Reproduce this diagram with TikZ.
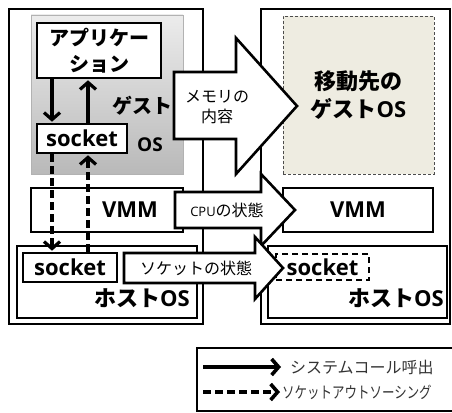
\documentclass[tikz,border=0pt]{standalone}
\usepackage{fontspec}
\setmainfont{Open Sans}
\newfontfamily\jp{Noto Sans CJK JP}
\usetikzlibrary{positioning, arrows.meta}
\definecolor{destfill}{HTML}{EEECE1}
\tikzset{
>={Straight Barb[length=7pt, width=16pt]},
frame/.style={draw, line width=2.8pt}, % the two physical machines
box/.style={draw, line width=2.6pt, fill=white, inner sep=0pt},
guest/.style={draw=gray!60, top color=gray!15, bottom color=gray!55},
dest/.style={draw=black!70, dash pattern=on 3pt off 2pt, fill=destfill},
call/.style={->, line width=3.2pt, shorten >=1pt},
outsource/.style={call, dash pattern=on 8pt off 4pt},
bigarrow/.style={draw, line width=2.6pt, fill=white, line join=miter},
big/.style={font=\bfseries\fontsize{22}{26}\selectfont},
jpbig/.style={font=\jp\bfseries\fontsize{20}{26}\selectfont, align=center},
label/.style={font=\jp\fontsize{16}{20}\selectfont, align=center},
}

\begin{document}
\begin{tikzpicture}[x=1pt, y=-1pt]
\useasboundingbox (0,0) rectangle (452,412);
% machines
\node[frame, minimum width=194, minimum height=315] at (106,166.5) (srcpc) {};
\node[frame, minimum width=189, minimum height=315] at (355.5,166.5) (dstpc) {};

% source machine
\node[guest, minimum width=152, minimum height=159] at (107,94.5) (guestos) {};
\node[box, jpbig, minimum width=124, minimum height=55] at (99,50.5) (app) {アプリケー\\ション};
\node[box, big, minimum width=90, minimum height=29] at (82,138.5) (gsock) {socket};
\node[jpbig] at (142,106) (gtext) {ゲスト};
\node[big, font=\bfseries\fontsize{19}{19}\selectfont] at (150,145) (gos) {OS};
\node[box, minimum width=152, minimum height=44] at (107,210) (vmm) {};
\node[big] at (130,210) (vmmtext) {VMM};
\node[box, minimum width=180, minimum height=72] at (107,282) (host) {};
\node[box, big, minimum width=94, minimum height=29] at (70,267.5) (hsock) {socket};
\node[big] at (142,298) (htext) {{\jp ホスト}OS};

\coordinate (xdown) at (52,0);
\coordinate (xup) at (88,0);
\draw[call] (app.south -| xdown) -- (gsock.north -| xdown);
\draw[call] (gsock.north -| xup) -- (app.south -| xup);
\draw[outsource] (gsock.south -| xdown) -- (hsock.north -| xdown);
\draw[outsource] (hsock.north -| xup) -- (gsock.south -| xup);

% destination machine
\node[dest, jpbig, font=\jp\bfseries\fontsize{22}{28}\selectfont, minimum width=151, minimum height=158] at (358.5,95) (dguest) {移動先の\\ゲスト{\rmfamily OS}};
\node[box, big, minimum width=150, minimum height=44] at (358,210) (dvmm) {VMM};
\node[box, minimum width=179, minimum height=72] at (357.5,282) (dhost) {};
\node[box, big, dash pattern=on 6pt off 4pt, minimum width=93, minimum height=26] at (322.5,267) (dsock) {socket};
\node[big] at (396,298) (dhtext) {{\jp ホスト}OS};

% what gets moved
\draw[bigarrow] (174,72) -- (236,72) -- (236,38) -- (297,106) -- (236,174) -- (236,139) -- (174,139) -- cycle;
\node[label] at (217,107) (memtext) {メモリの\\内容};
\draw[bigarrow] (175,192) -- (261,192) -- (261,174) -- (295,210) -- (261,246) -- (261,228) -- (175,228) -- cycle;
\node[label] at (227,210) (cputext) {{\rmfamily\fontsize{13}{13}\selectfont CPU}の状態};
\draw[bigarrow] (124,253) -- (255,253) -- (255,237) -- (283,268) -- (255,299) -- (255,283) -- (124,283) -- cycle;
\node[label] at (196,268) (socktext) {ソケットの状態};

% legend
\begin{scope}
\clip (0,0) rectangle (452,412);
\node[draw, line width=2pt, minimum width=270, minimum height=63, anchor=north west] at (196,347) (legend) {};
\end{scope}
\coordinate (leg1) at (203,367);
\coordinate (leg2) at (203,392);
\node[label, text=black!80, anchor=west, inner sep=2pt] at (288,367) (syscall) {システムコール呼出};
\node[label, text=black!80, anchor=west, inner sep=1pt] at (281,392) (outsrc) {\scalebox{0.78}[1]{ソケットアウトソーシング}};
\draw[call, line width=3.6pt, shorten >=7pt] (leg1) -- (syscall.west);
\draw[outsource, line width=3.6pt] (leg2) -- (outsrc.west);
\end{tikzpicture}
\end{document}
